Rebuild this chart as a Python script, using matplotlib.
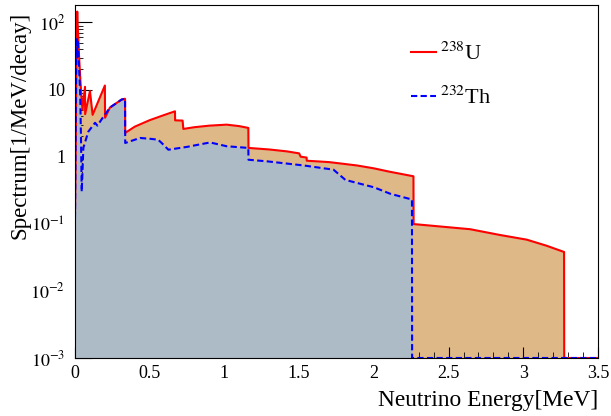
import numpy as np
import matplotlib
matplotlib.use("Agg")
import matplotlib.pyplot as plt
from matplotlib.ticker import FixedLocator, FixedFormatter, MultipleLocator, FormatStrFormatter

plt.rcParams['font.family'] = ['Liberation Serif', 'DejaVu Serif']
plt.rcParams['mathtext.fontset'] = 'stix'

# U-238 spectrum
u_energy = [0.0, 0.003, 0.006, 0.009, 0.012, 0.015, 0.018, 0.022, 0.026, 0.03,
            0.035, 0.04, 0.05, 0.067, 0.068, 0.1, 0.118, 0.2, 0.201, 0.234,
            0.312, 0.335, 0.336, 0.4, 0.5, 0.6, 0.669, 0.67, 0.72, 0.725,
            0.8, 0.9, 1.015, 1.1, 1.16, 1.161, 1.3, 1.417, 1.5, 1.51,
            1.55, 1.551, 1.7, 1.886, 2.0, 2.1, 2.265, 2.266, 2.644, 2.845,
            3.023, 3.157, 3.273, 3.274, 3.5]
u_spec = [0.15, 0.5, 3, 20, 80, 145, 90, 60, 35, 24,
          15, 10, 5, 11, 4.3, 9.5, 4.2, 11.5, 3.8, 5.4,
          7.1, 7.3, 2.26, 2.8, 3.5, 4.2, 4.74, 3.48, 3.45, 2.59,
          2.75, 2.9, 3.0, 2.85, 2.68, 1.35, 1.28, 1.2, 1.12, 1.0,
          0.97, 0.87, 0.83, 0.74, 0.67, 0.6, 0.51, 0.099, 0.083, 0.068,
          0.058, 0.047, 0.038, 1e-3, 1e-3]

# Th-232 spectrum
th_energy = [0.0, 0.003, 0.006, 0.009, 0.012, 0.015, 0.018, 0.022, 0.026, 0.03,
             0.035, 0.04, 0.045, 0.056, 0.089, 0.134, 0.15, 0.178, 0.234, 0.312,
             0.335, 0.336, 0.435, 0.5, 0.556, 0.58, 0.625, 0.75, 0.904, 1.015,
             1.16, 1.161, 1.29, 1.53, 1.73, 1.81, 2.0, 2.11, 2.255, 2.256, 3.5]
th_spec = [0.12, 1, 10, 40, 60, 30, 55, 40, 25, 15,
           8, 2, 0.3, 1.36, 2.36, 3.2, 2.9, 3.6, 5.4, 7.1,
           7.3, 1.6, 1.9, 1.85, 1.79, 1.6, 1.27, 1.4, 1.63, 1.43,
           1.35, 0.9, 0.85, 0.74, 0.64, 0.45, 0.35, 0.28, 0.23, 1e-3, 1e-3]

y_ticks = [1e-3, 1e-2, 1e-1, 1, 10, 100]
y_tick_labels = [r'$10^{-3}$', r'$10^{-2}$', r'$10^{-1}$', '1', '10', r'$10^{2}$']

fig = plt.figure(figsize=(6.11, 4.16), dpi=100)
ax = fig.add_axes([75/611, 1-358/416, 523/611, 353/416])

ax.fill_between(u_energy, 1e-3, u_spec, color='#DEB887', lw=0, zorder=0.3)
ax.fill_between(th_energy, 1e-3, th_spec, color='#ADBBC6', lw=0, zorder=1)
ax.plot(u_energy, u_spec, color='red', lw=1.5, zorder=2, label=r'$^{238}$U')
ax.plot(th_energy, th_spec, color='blue', lw=1.5, ls=(0, (3, 1.6)), zorder=2.1,
        label=r'$^{232}$Th')

ax.set_yscale('log')
ax.set_xlim(0, 3.5)
ax.set_ylim(1e-3, 182)
ax.set_axisbelow(True)

ax.xaxis.set_major_locator(MultipleLocator(0.5))
ax.xaxis.set_major_formatter(FormatStrFormatter('%g'))
ax.xaxis.set_minor_locator(MultipleLocator(0.1))
ax.yaxis.set_major_locator(FixedLocator(y_ticks))
ax.yaxis.set_major_formatter(FixedFormatter(y_tick_labels))
ax.tick_params(which='both', direction='in', top=False, right=False, labelsize=13)
ax.tick_params(axis='x', which='major', length=8, pad=5)
ax.tick_params(axis='x', which='minor', length=4)
ax.tick_params(axis='y', which='major', length=12, pad=7)
ax.tick_params(axis='y', which='minor', length=6)

ax.set_xlabel('Neutrino Energy[MeV]', fontsize=16.8, ha='right')
ax.xaxis.set_label_coords(1.0, -0.09)
ax.set_ylabel('Spectrum[1/MeV/decay]', fontsize=16.5, loc='top')
ax.yaxis.set_label_coords(-0.085, 0.98)

ax.legend(loc='upper left', bbox_to_anchor=(0.605, 0.95), frameon=False,
          fontsize=16, handlelength=1.1, handletextpad=0.2, labelspacing=1.0)

plt.savefig('out.png', dpi=100)
